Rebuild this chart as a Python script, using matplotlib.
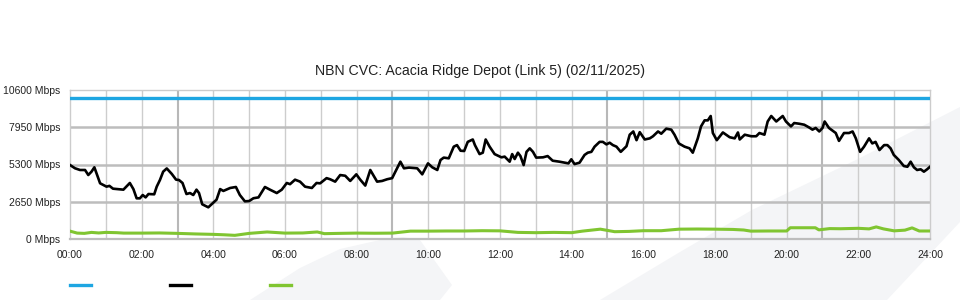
import matplotlib
matplotlib.use("Agg")
import matplotlib.pyplot as plt
from matplotlib.patches import Polygon
from matplotlib.lines import Line2D

plt.rcParams["font.family"] = ["Liberation Sans", "DejaVu Sans"]

# ---- data ----
title = "NBN CVC: Acacia Ridge Depot (Link 5) (02/11/2025)"
capacity_mbps = 10000

traffic_hours = [
    0.0, 0.14, 0.28, 0.42, 0.51, 0.6, 0.68, 0.84, 1.02, 1.1, 1.2, 1.49, 1.67, 1.77, 1.86, 1.95,
    2.03, 2.11, 2.19, 2.35, 2.42, 2.51, 2.6, 2.7, 2.84, 2.96, 3.04, 3.14, 3.25, 3.35, 3.44, 3.53,
    3.6, 3.69, 3.86, 4.0, 4.09, 4.19, 4.28, 4.47, 4.63, 4.74, 4.88, 5.0, 5.12, 5.26, 5.44, 5.58,
    5.77, 5.91, 6.05, 6.14, 6.28, 6.42, 6.56, 6.75, 6.88, 6.98, 7.16, 7.26, 7.4, 7.54, 7.68, 7.82,
    7.99, 8.1, 8.24, 8.38, 8.57, 8.71, 8.85, 8.99, 9.08, 9.22, 9.32, 9.46, 9.69, 9.83, 9.99, 10.11,
    10.25, 10.34, 10.43, 10.57, 10.71, 10.8, 10.9, 11.0, 11.1, 11.24, 11.3, 11.43, 11.52, 11.6,
    11.71, 11.85, 12.04, 12.13, 12.27, 12.34, 12.41, 12.5, 12.57, 12.66, 12.74, 12.83, 12.92,
    13.01, 13.2, 13.33, 13.47, 13.66, 13.8, 13.91, 13.99, 14.08, 14.22, 14.36, 14.45, 14.55,
    14.64, 14.78, 14.87, 14.97, 15.06, 15.15, 15.25, 15.37, 15.53, 15.62, 15.72, 15.81, 15.9,
    16.04, 16.18, 16.27, 16.41, 16.5, 16.64, 16.78, 16.87, 16.99, 17.15, 17.29, 17.38, 17.52,
    17.61, 17.71, 17.8, 17.88, 17.94, 18.05, 18.22, 18.41, 18.55, 18.64, 18.69, 18.83, 19.01,
    19.15, 19.24, 19.38, 19.47, 19.57, 19.71, 19.89, 19.98, 20.12, 20.21, 20.35, 20.49, 20.63,
    20.72, 20.81, 20.91, 21.0, 21.06, 21.18, 21.37, 21.46, 21.6, 21.74, 21.84, 21.93, 22.05,
    22.16, 22.3, 22.39, 22.48, 22.59, 22.72, 22.81, 22.9, 22.99, 23.13, 23.27, 23.37, 23.46,
    23.55, 23.64, 23.74, 23.83, 23.92, 24.0,
]
traffic_mbps = [
    5264, 5030, 4909, 4909, 4553, 4790, 5100, 3962, 3723, 3780, 3580, 3510, 3985, 3545, 2894, 2894,
    3130, 2960, 3200, 3180, 3723, 4197, 4790, 5020, 4630, 4220, 4200, 3985, 3200, 3270, 3130, 3510,
    3270, 2468, 2255, 2585, 2800, 3550, 3420, 3630, 3700, 3130, 2680, 2700, 2900, 2960, 3700, 3510,
    3270, 3510, 3985, 3900, 4220, 4080, 3723, 3630, 3985, 3960, 4330, 4250, 4080, 4550, 4500, 4130,
    4600, 4220, 3800, 4910, 4080, 4130, 4250, 4330, 4790, 5500, 5030, 5080, 5030, 4600, 5380, 5100,
    4910, 5620, 5790, 5740, 6570, 6680, 6280, 6260, 6910, 7080, 6680, 6040, 6140, 7080,
    6570, 6040, 5810, 5860, 5500, 6040, 5690, 6140, 5900, 5260, 6200, 6450, 6200,
    5790, 5810, 5900, 5570, 5500, 5430, 5380, 5670, 5330, 5430, 5980, 6140, 6200,
    6570, 6910, 6910, 6730, 6850, 6680, 6570, 6200, 6600, 7420, 7650, 7030, 7600,
    7080, 7160, 7310, 7650, 7490, 7850, 7780, 7420, 6800, 6570, 6450, 6140, 7160,
    8010, 8440, 8440, 8750, 7540, 7030, 7580, 7240, 7160, 7580, 7080, 7420, 7310,
    7310, 7540, 7420, 8360, 8750, 8360, 8750, 8360, 8010, 8250, 8200, 8130, 7930,
    7780, 7900, 7650, 7900, 8360, 7900, 7540, 6980, 7540, 7540, 7650, 7160, 6200,
    6570, 7160, 6800, 6910, 6330, 6680, 6680, 6450, 5980, 5620, 5190, 5140, 5500,
    5100, 4910, 4960, 4790, 4960, 5140,
]

green_hours = [
    0.0, 0.2, 0.4, 0.6, 0.8, 1.0, 1.3, 1.5, 2.0, 2.5, 3.0, 3.5, 4.0, 4.3, 4.6, 5.0, 5.5, 6.0,
    6.5, 6.9, 7.1, 7.5, 8.0, 8.5, 9.0, 9.5, 10.0, 10.5, 11.0, 11.5, 12.0, 12.5, 13.0, 13.5,
    14.0, 14.3, 14.8, 15.2, 15.6, 16.0, 16.5, 17.0, 17.5, 18.0, 18.5, 18.8, 19.0, 19.5, 20.0,
    20.1, 20.8, 20.9, 21.2, 21.5, 22.0, 22.3, 22.5, 22.7, 23.0, 23.3, 23.5, 23.7, 24.0,
]
green_mbps = [
    560, 420, 400, 470, 430, 470, 450, 420, 420, 430, 400, 360, 330, 300, 260, 400, 500, 420,
    430, 500, 380, 400, 420, 410, 420, 560, 560, 570, 570, 590, 580, 470, 450, 470,
    450, 560, 700, 520, 540, 590, 590, 700, 710, 700, 680, 640, 560, 570, 570,
    800, 800, 650, 740, 730, 760, 720, 860, 720, 580, 630, 790, 570, 570,
]

y_ticks = [0, 2650, 5300, 7950, 10600]
y_labels = ["0 Mbps", "2650 Mbps", "5300 Mbps", "7950 Mbps", "10600 Mbps"]
x_ticks = list(range(0, 25, 2))
x_labels = ["%02d:00" % h for h in x_ticks]

BLUE = "#1ea6e2"
GREEN = "#80c531"
W, H = 960, 300

fig = plt.figure(figsize=(W / 100, H / 100), dpi=100)


def px(x, y):
    return (x / W, 1 - y / H)


# faint background watermark, behind everything
wm = "#f4f5f7"
shape1 = [(250, 300), (300, 268), (340, 249), (380, 240), (403, 237), (420, 240), (452, 285), (440, 300)]
shape2 = [(600, 300), (680, 252), (752, 210), (860, 158), (960, 107), (960, 222), (887, 300)]
for s in (shape1, shape2):
    fig.patches.append(Polygon([px(*p) for p in s], closed=True, transform=fig.transFigure,
                               facecolor=wm, edgecolor="none", zorder=-5))

ax = fig.add_axes([70 / W, 1 - 239 / H, 860 / W, 149 / H])
ax.set_zorder(1)
ax.set_facecolor("none")
ax.set_xlim(0, 24)
ax.set_ylim(0, 10600)

# grid
for h in range(1, 24):
    dark = h % 6 == 3
    ax.axvline(h, color="#b8b8b8" if dark else "#cdcdcd", lw=1.5 if dark else 1.0, zorder=1)
for v in y_ticks[1:-1]:
    ax.axhline(v, color="#bdbdbd", lw=1.8, zorder=1)
for side in ["top", "left", "right"]:
    ax.spines[side].set_color("#cccccc")
    ax.spines[side].set_linewidth(1.0)
ax.spines["bottom"].set_color("#bdbdbd")
ax.spines["bottom"].set_linewidth(1.6)

ax.axhline(capacity_mbps, color=BLUE, lw=2.4, zorder=3)
ax.plot(green_hours, green_mbps, color=GREEN, lw=2.2, zorder=3)
ax.plot(traffic_hours, traffic_mbps, color="black", lw=1.9, zorder=4)

ax.set_xticks(x_ticks)
ax.set_xticklabels(x_labels)
ax.set_yticks(y_ticks)
ax.set_yticklabels(y_labels)
ax.tick_params(length=0, labelsize=7.5, colors="#222222")
ax.tick_params(axis="x", pad=8)
ax.tick_params(axis="y", pad=7)

# title is centred on the whole image, not on the plot area
fig.text(0.5, 1 - 71 / H, title, ha="center", va="center", fontsize=10.2, color="#222222")

# legend swatches (no text)
for x0, c in [(70, BLUE), (170, "black"), (270, GREEN)]:
    fig.add_artist(Line2D([x0 / W, (x0 + 21) / W], [1 - 285 / H] * 2, color=c, lw=2.4,
                          transform=fig.transFigure))

fig.savefig("out.png", dpi=100)
